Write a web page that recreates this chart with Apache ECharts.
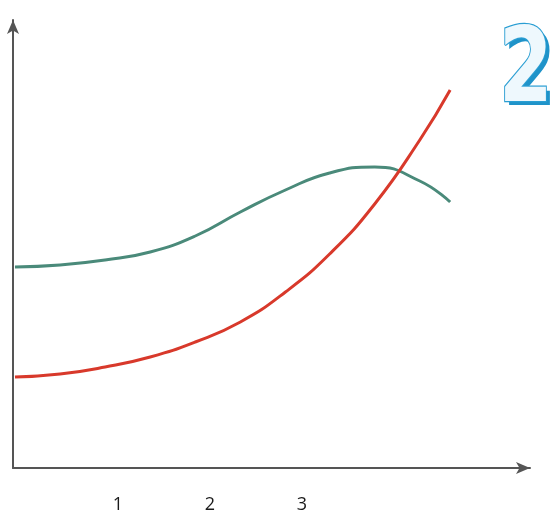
<!DOCTYPE html>
<html>
<head>
<meta charset="utf-8">
<script src="https://cdn.jsdelivr.net/npm/echarts@6/dist/echarts.min.js"></script>
<style>html,body{margin:0;padding:0;background:#fff}#c{width:554px;height:522px}</style>
</head>
<body>
<div id="c"></div>
<script>
var xTickLabels = [1, 2, 3];
var sampleX = [-0.12, 0.37, 0.86, 1.35, 1.84, 2.33, 2.82, 3.30, 3.79, 4.28, 4.61];
var greenY = [201, 203, 208, 216, 232, 256, 278, 295, 301, 287, 266];
var redY = [91, 94, 101, 111, 126, 146, 176, 214, 264, 328, 378];
var badgeText = '2';

function pairs(xs, ys) { return xs.map(function (x, i) { return [x, ys[i]]; }); }

var chart = echarts.init(document.getElementById('c'), null, {renderer: 'canvas'});
chart.setOption({
  animation: false,
  backgroundColor: '#fff',
  grid: {left: 13, top: 20, width: 517, height: 448, containLabel: false},
  xAxis: {
    type: 'value', min: -0.1413, max: 5.478,
    splitLine: {show: false},
    axisTick: {show: false},
    axisLine: {show: true, onZero: false, symbol: ['none', 'arrow'], symbolSize: [9, 14], lineStyle: {color: '#555', width: 2}},
    axisLabel: {customValues: xTickLabels, formatter: function (v) { return String(v); }, margin: 28, color: '#1a1a1a', fontSize: 18, fontFamily: 'Open Sans'}
  },
  yAxis: {
    type: 'value', min: 0, max: 448,
    splitLine: {show: false},
    axisTick: {show: false},
    axisLabel: {show: false},
    axisLine: {show: true, onZero: false, symbol: ['none', 'arrow'], symbolSize: [9, 14], lineStyle: {color: '#555', width: 2}}
  },
  series: [
    {type: 'line', data: pairs(sampleX, greenY), smooth: 0.5, showSymbol: false, lineStyle: {color: '#4a8a7a', width: 3}},
    {type: 'line', data: pairs(sampleX, redY), smooth: 0.5, showSymbol: false, lineStyle: {color: '#d8392b', width: 3}}
  ],
  graphic: [
    {type: 'text', left: 503, top: 26, scaleX: 0.74, style: {text: badgeText, font: 'bold 104px "DejaVu Sans"', fill: '#1f93c9'}},
    {type: 'text', left: 498, top: 21, scaleX: 0.74, style: {text: badgeText, font: 'bold 104px "DejaVu Sans"', fill: '#eef8fd', stroke: '#2a9ed3', lineWidth: 2.5}}
  ]
});
</script>
</body>
</html>
